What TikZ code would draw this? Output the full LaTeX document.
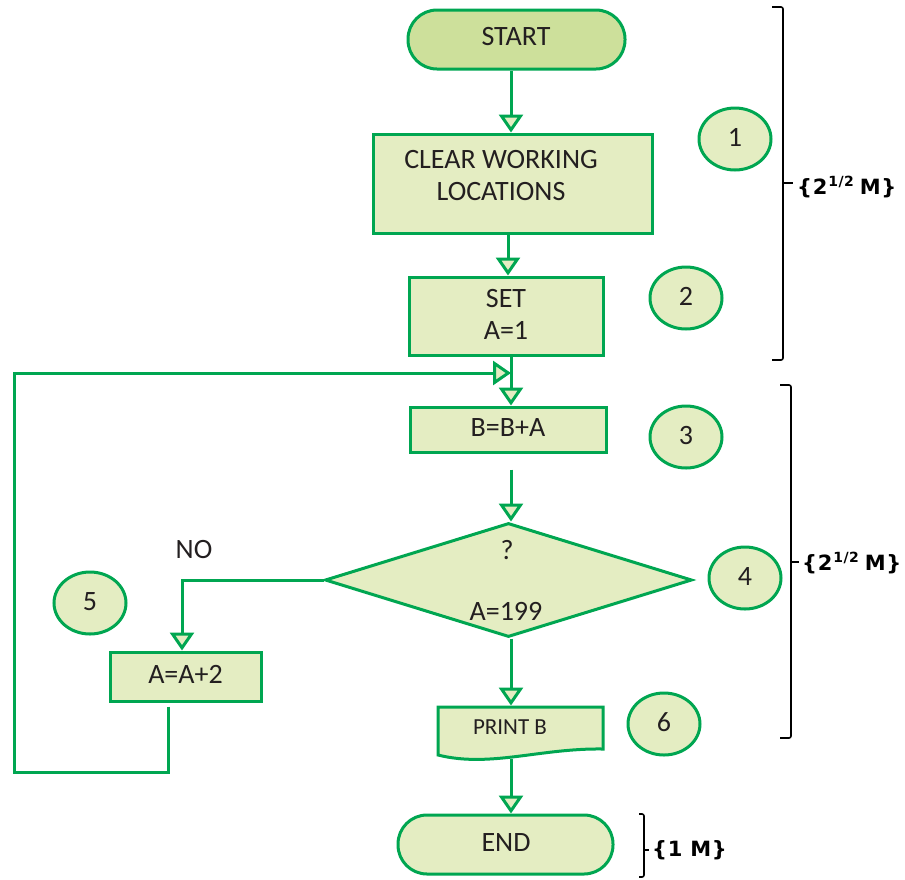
\documentclass[tikz,border=0pt]{standalone}
\usepackage{fontspec}
\setmainfont{Carlito}
\newfontfamily\lblfont[LetterSpace=3]{DejaVu Sans Bold}
\usetikzlibrary{arrows.meta,shapes.geometric,calc}
\definecolor{gline}{RGB}{0,166,81}
\definecolor{gfill}{RGB}{228,237,194}
\definecolor{gstart}{RGB}{205,224,155}
\definecolor{tcol}{RGB}{35,31,32}
\newcommand{\halfm}{\{2\kern1pt\raisebox{7.5pt}{\fontsize{14}{15}\selectfont 1/2}\kern6pt M\}}
\begin{document}
\begin{tikzpicture}[x=1pt,y=-1pt,
  txt/.style={font=\fontsize{28}{32}\selectfont, text=tcol, inner sep=0pt, align=center},
  boxst/.style={draw=gline, line width=3pt, fill=gfill},
  procbox/.style={boxst, rectangle, inner sep=0pt, font=\fontsize{28}{32}\selectfont, text=tcol},
  term/.style={procbox, rounded corners=29pt},
  numc/.style={boxst, ellipse, inner sep=0pt, minimum width=72pt, minimum height=62pt, font=\fontsize{28}{32}\selectfont, text=tcol},
  arr/.style={draw=gline, line width=3pt, -{Triangle[width=24pt,length=18pt,fill=gfill,line width=3pt]}},
  brk/.style={draw=black, line width=1.6pt, rounded corners=2pt},
  lbl/.style={font=\lblfont\fontsize{21}{22}\selectfont, text=black, inner sep=0pt, anchor=west}
]
\useasboundingbox (0,0) rectangle (905,879);
\coordinate (col) at (511,0);
\coordinate (col2) at (508,0);
\coordinate (nox) at (182,0);
\coordinate (lx) at (168,0);
\coordinate (lb) at (14,772);
\coordinate (join) at (511,373);

% shapes
\node[term, fill=gstart, minimum width=217pt, minimum height=59pt] (start) at (516.5,39.5) {};
\node[txt] (startT) at (516,37) {START};
\node[procbox, minimum width=279pt, minimum height=99pt] (clear) at (512.5,183.5) {};
\node[txt] (clearT) at (501,176) {CLEAR WORKING\\LOCATIONS};
\node[procbox, minimum width=194pt, minimum height=78pt] (set) at (506,316) {};
\node[txt] (setT) at (506,314) {SET\\A=1};
\node[procbox, minimum width=196pt, minimum height=45pt] (bba) at (508,429.5) {};
\node[txt] (bbaT) at (508,428) {B=B+A};
\node[boxst, diamond, inner sep=0pt, minimum width=367pt, minimum height=114pt] (dia) at (508.5,580) {};
\node[txt] (q) at (507,550) {?};
\node[txt] (a199) at (506,611) {A=199};
\node[txt] (no) at (194,549) {NO};
\node[procbox, minimum width=151pt, minimum height=49pt] (addA) at (185.5,676.5) {};
\node[txt] (addAT) at (185.5,674) {A=A+2};
\node[inner sep=0pt, outer sep=1.5pt, minimum width=165pt, minimum height=48pt] (print) at (520.5,731) {};
\draw[boxst] (438,707) -- (603,707) -- (603,749) .. controls (540,748) and (490,768) .. (438,755) -- cycle;
\node[txt, font=\fontsize{23}{26}\selectfont] (printT) at (510,727) {PRINT B};
\node[term, minimum width=215pt, minimum height=59pt] (end) at (505.5,844.5) {};
\node[txt] (endT) at (506,843) {END};

% numbered circles
\node[numc] (n1) at (735,139) {\raisebox{3pt}{1}};
\node[numc] (n2) at (686,298) {\raisebox{3pt}{2}};
\node[numc] (n3) at (686,437) {\raisebox{3pt}{3}};
\node[numc] (n4) at (745,578) {\raisebox{3pt}{4}};
\node[numc] (n5) at (90,603) {\raisebox{3pt}{5}};
\node[numc] (n6) at (664,724) {\raisebox{3pt}{6}};

% connectors
\draw[arr] (start.south -| col) -- (clear.north -| col);
\draw[arr] (clear.south -| col2) -- (set.north -| col2);
\draw[arr] (set.south -| col) -- (bba.north -| col);
\draw[arr] ($(bba.south -| col)+(0,16)$) -- (dia.north -| col);
\draw[arr] (dia.south -| col) -- (print.north -| col);
\draw[arr] ($(print.south -| col)+(0,2)$) -- (end.north -| col);
\draw[arr] (dia.west) -- (dia.west -| nox) -- (addA.north -| nox);
\draw[arr] ($(addA.south -| lx)+(0,4)$) -- (lx |- lb) -- (lb) -- (lb |- join) -- (join);

% brackets
\draw[brk] (772,7) -- (783,7) -- (783,360) -- (772,360);
\draw[brk] (783,183) -- (793,183);
\node[lbl] (m1) at (797,187) {\halfm};
\draw[brk] (780,385) -- (791,385) -- (791,738) -- (780,738);
\draw[brk] (791,562) -- (799,562);
\node[lbl] (m2) at (802,563) {\halfm};
\draw[brk] (639,814) -- (644,814) -- (644,877) -- (639,877);
\draw[brk] (644,850) -- (649,850);
\node[lbl] (m3) at (652,850) {\{1 M\}};
\end{tikzpicture}
\end{document}
